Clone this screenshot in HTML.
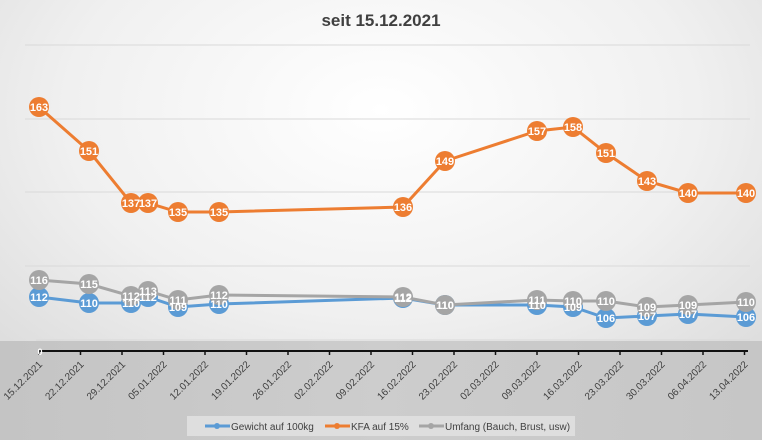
<!DOCTYPE html>
<html><head><style>
html,body{margin:0;padding:0;}
body{width:762px;height:440px;overflow:hidden;background:radial-gradient(ellipse 75% 85% at 50% 25%,#ffffff 0%,#f0f0f0 55%,#d9d9d9 100%);font-family:"Liberation Sans",sans-serif;}
</style></head><body>
<svg width="762" height="440" xmlns="http://www.w3.org/2000/svg" style="position:absolute;left:0;top:0">
<defs><linearGradient id="bg2" x1="0" y1="0" x2="1" y2="0"><stop offset="0" stop-color="#c4c4c4"/><stop offset="0.5" stop-color="#cdcdcd"/><stop offset="1" stop-color="#c6c6c6"/></linearGradient></defs>
<rect x="0" y="341" width="762" height="99" fill="url(#bg2)"/>
<text x="381" y="26" text-anchor="middle" font-size="17" font-weight="bold" fill="#404040" font-family="Liberation Sans Narrow, Liberation Sans, sans-serif">seit 15.12.2021</text>
<g stroke="#d9d9d9" stroke-width="1">
<line x1="25" y1="45" x2="750" y2="45"/><line x1="25" y1="119" x2="750" y2="119"/><line x1="25" y1="192" x2="750" y2="192"/><line x1="25" y1="266" x2="750" y2="266"/><line x1="36" y1="340" x2="750" y2="340"/>
</g>
<line x1="38" y1="351" x2="748" y2="351" stroke="#111" stroke-width="2"/>
<g stroke="#111" stroke-width="1.5" id="ticks"></g>
<text x="40" y="355" font-size="9" fill="#fff" font-weight="bold" text-anchor="middle">0</text>
<g id="lbls" font-size="10" fill="#404040"></g>
<g id="series"></g>
<rect x="187" y="416" width="388" height="20" fill="#dedede"/>
<line x1="205" y1="426" x2="230" y2="426" stroke="#5b9bd5" stroke-width="3"/><circle cx="217" cy="426" r="3" fill="#5b9bd5"/>
<text x="231" y="430" font-size="10" fill="#404040">Gewicht auf 100kg</text>
<line x1="325" y1="426" x2="350" y2="426" stroke="#ed7d31" stroke-width="3"/><circle cx="337" cy="426" r="3" fill="#ed7d31"/>
<text x="351" y="430" font-size="10" fill="#404040">KFA auf 15%</text>
<line x1="419" y1="426" x2="444" y2="426" stroke="#a5a5a5" stroke-width="3"/><circle cx="431" cy="426" r="3" fill="#a5a5a5"/>
<text x="445" y="430" font-size="10" fill="#404040">Umfang (Bauch, Brust, usw)</text>
</svg>
<script>
var ns="http://www.w3.org/2000/svg";
var dates=["15.12.2021","22.12.2021","29.12.2021","05.01.2022","12.01.2022","19.01.2022","26.01.2022","02.02.2022","09.02.2022","16.02.2022","23.02.2022","02.03.2022","09.03.2022","16.03.2022","23.03.2022","30.03.2022","06.04.2022","13.04.2022"];
var tk=document.getElementById("ticks"),lb=document.getElementById("lbls");
dates.forEach(function(d,i){var x=39+41.5*i;
var l=document.createElementNS(ns,"line");l.setAttribute("x1",x);l.setAttribute("x2",x);l.setAttribute("y1",351);l.setAttribute("y2",355);tk.appendChild(l);
var t=document.createElementNS(ns,"text");t.setAttribute("text-anchor","end");t.setAttribute("transform","translate("+(x+4)+",365) rotate(-45)");t.textContent=d;lb.appendChild(t);});
var xs=[39,89,131,148,178,219,403,445,537,573,606,647,688,746];
var S=[
{c:"#5b9bd5",y:[297,303,303,297,307,304,298,305,305,307,318,316,314,317],v:[112,110,110,112,109,110,112,110,110,109,106,107,107,106]},
{c:"#ed7d31",y:[107,151,203,203,212,212,207,161,131,127,153,181,193,193],v:[163,151,137,137,135,135,136,149,157,158,151,143,140,140]},
{c:"#a5a5a5",y:[280,284,296,291,300,295,297,305,300,301,301,307,305,302],v:[116,115,112,113,111,112,112,110,111,110,110,109,109,110]}];
var g=document.getElementById("series");
S.forEach(function(s){var p=document.createElementNS(ns,"polyline");p.setAttribute("points",xs.map(function(x,i){return x+","+s.y[i]}).join(" "));p.setAttribute("fill","none");p.setAttribute("stroke",s.c);p.setAttribute("stroke-width","3");g.appendChild(p);
xs.forEach(function(x,i){var c=document.createElementNS(ns,"circle");c.setAttribute("cx",x);c.setAttribute("cy",s.y[i]);c.setAttribute("r",10);c.setAttribute("fill",s.c);g.appendChild(c);});});
S.forEach(function(s){xs.forEach(function(x,i){var t=document.createElementNS(ns,"text");t.setAttribute("x",x);t.setAttribute("y",s.y[i]+4);t.setAttribute("text-anchor","middle");t.setAttribute("font-size","11");t.setAttribute("font-weight","bold");t.setAttribute("fill","#fff");t.textContent=s.v[i];g.appendChild(t);});});
</script>
</body></html>
